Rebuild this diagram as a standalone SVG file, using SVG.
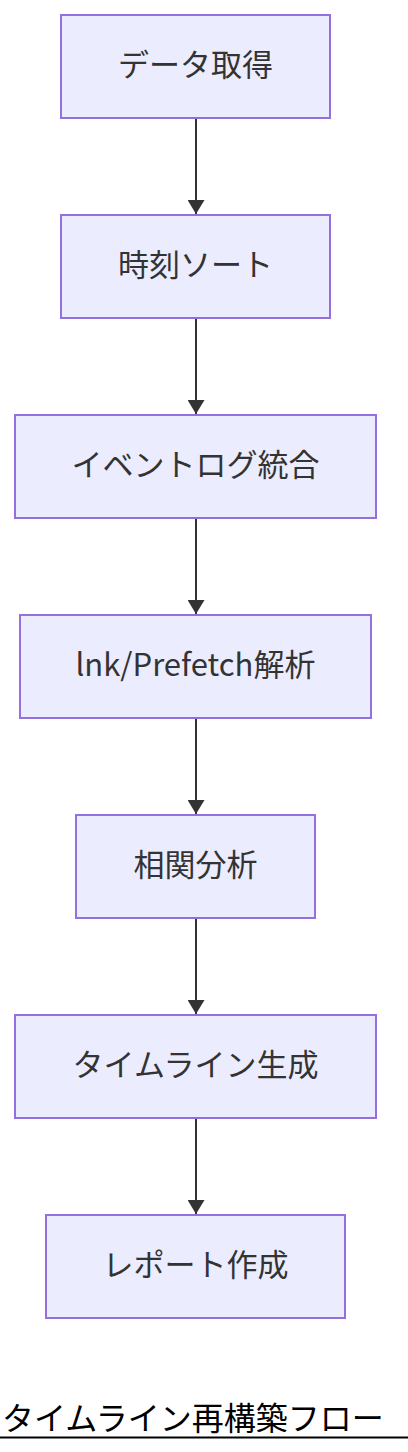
<svg xmlns="http://www.w3.org/2000/svg" width="408" height="1452" viewBox="0 0 408 1452">
<style>
.node rect{fill:#ECECFF;stroke:#9370DB;stroke-width:2}
.node text{font-family:"Noto Sans CJK JP","Noto Sans",sans-serif;font-size:31px;fill:#333;text-anchor:middle;dominant-baseline:central}
.edge{stroke:#333;stroke-width:2;fill:none}
.title{font-family:"Noto Sans CJK JP",sans-serif;font-size:32px;fill:#000}
</style>
<defs>
<marker id="arr" markerWidth="14" markerHeight="17" refX="14" refY="8.5" orient="auto" markerUnits="userSpaceOnUse" viewBox="0 0 14 17">
<path d="M0,0 L14,8.5 L0,17 z" fill="#333"/>
</marker>
</defs>
<rect width="408" height="1452" fill="#fff"/>
<g id="edges">
<path class="edge" d="M196,119 V214" marker-end="url(#arr)"/>
<path class="edge" d="M196,319 V414" marker-end="url(#arr)"/>
<path class="edge" d="M196,519 V614" marker-end="url(#arr)"/>
<path class="edge" d="M196,719 V814" marker-end="url(#arr)"/>
<path class="edge" d="M196,919 V1014" marker-end="url(#arr)"/>
<path class="edge" d="M196,1119 V1214" marker-end="url(#arr)"/>
</g>
<g id="n1" class="node"><rect x="61" y="15" width="269" height="103"/><text x="195.5" y="62.5">データ取得</text></g>
<g id="n2" class="node"><rect x="61" y="215" width="269" height="103"/><text x="195.5" y="262.5">時刻ソート</text></g>
<g id="n3" class="node"><rect x="15" y="415" width="361" height="103"/><text x="195.5" y="462.5">イベントログ統合</text></g>
<g id="n4" class="node"><rect x="20" y="615" width="351" height="103"/><text x="195.5" y="662.5">lnk/Prefetch解析</text></g>
<g id="n5" class="node"><rect x="76" y="815" width="239" height="103"/><text x="195.5" y="862.5">相関分析</text></g>
<g id="n6" class="node"><rect x="15" y="1015" width="361" height="103"/><text x="195.5" y="1062.5">タイムライン生成</text></g>
<g id="n7" class="node"><rect x="46" y="1215" width="299" height="103"/><text x="195.5" y="1262.5">レポート作成</text></g>
<g id="title">
<text class="title" x="2" y="1430">タイムライン再構築フロー</text>
<line x1="0" y1="1437.5" x2="408" y2="1437.5" stroke="#000" stroke-width="2"/>
</g>
</svg>
